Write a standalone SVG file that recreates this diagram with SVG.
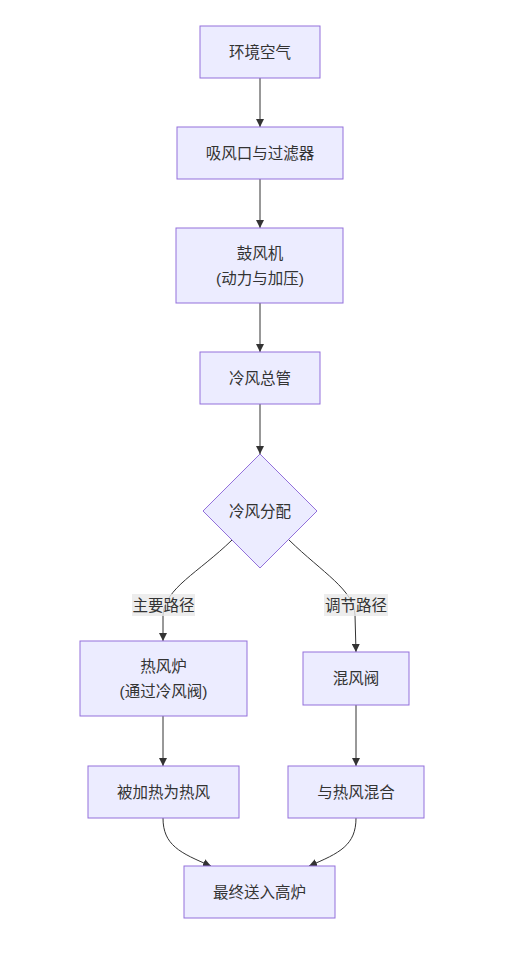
<svg xmlns="http://www.w3.org/2000/svg" width="520" height="972" viewBox="0 0 520 972">
<defs>
<style>
.node rect,.node polygon{fill:#ECECFF;stroke:#9370DB;stroke-width:1}
text{font-family:"Liberation Sans","Noto Sans CJK SC",sans-serif;font-size:15.5px;fill:#333;text-anchor:middle;dominant-baseline:central}
.edge{fill:none;stroke:#333;stroke-width:1;marker-end:url(#arrow)}
.lbl rect{fill:#E8E8E8;fill-opacity:0.8;stroke:none}
</style>
<marker id="arrow" viewBox="0 0 10 10" refX="10" refY="5" markerWidth="8" markerHeight="8" markerUnits="userSpaceOnUse" orient="auto">
<path d="M0,0 L10,5 L0,10 z" fill="#333"/>
</marker>
</defs>
<rect width="520" height="972" fill="#fff"/>
<g id="edges">
<path class="edge" d="M260,78 L260,127"/>
<path class="edge" d="M260,179 L260,228"/>
<path class="edge" d="M260,303 L260,352"/>
<path class="edge" d="M260,404 L260,454"/>
<path class="edge" d="M232,540 C198,573 165,588 163,615 L163,641"/>
<path class="edge" d="M289,540 C323,573 354,590 355,615 L356,652"/>
<path class="edge" d="M163,705 L163,766"/>
<path class="edge" d="M356,705 L356,766"/>
<path class="edge" d="M163,818 C163,845 180,853 211,866"/>
<path class="edge" d="M356,818 C356,845 340,853 309,866"/>
</g>
<g id="edge-labels">
<g class="lbl" id="label-main"><rect x="132" y="594" width="63" height="22"/><text x="163.5" y="605">主要路径</text></g>
<g class="lbl" id="label-adjust"><rect x="324" y="594" width="64" height="22"/><text x="356" y="605">调节路径</text></g>
</g>
<g class="node" id="n1"><rect x="200" y="26" width="120" height="52"/><text x="260" y="52">环境空气</text></g>
<g class="node" id="n2"><rect x="177" y="127" width="166" height="52"/><text x="260" y="153">吸风口与过滤器</text></g>
<g class="node" id="n3"><rect x="176" y="228" width="167" height="75"/><text x="260" y="253">鼓风机</text><text x="260" y="278">(动力与加压)</text></g>
<g class="node" id="n4"><rect x="200" y="352" width="120" height="52"/><text x="260" y="378">冷风总管</text></g>
<g class="node" id="n5"><polygon points="260,454 317,511 260,568 203,511"/><text x="260" y="511">冷风分配</text></g>
<g class="node" id="n6"><rect x="80" y="641" width="167" height="75"/><text x="163.5" y="666">热风炉</text><text x="163.5" y="691">(通过冷风阀)</text></g>
<g class="node" id="n7"><rect x="303" y="652" width="106" height="53"/><text x="356" y="678">混风阀</text></g>
<g class="node" id="n8"><rect x="88" y="766" width="151" height="52"/><text x="163.5" y="792">被加热为热风</text></g>
<g class="node" id="n9"><rect x="288" y="766" width="136" height="52"/><text x="356" y="792">与热风混合</text></g>
<g class="node" id="n10"><rect x="184" y="866" width="151" height="52"/><text x="259.5" y="892">最终送入高炉</text></g>
</svg>
